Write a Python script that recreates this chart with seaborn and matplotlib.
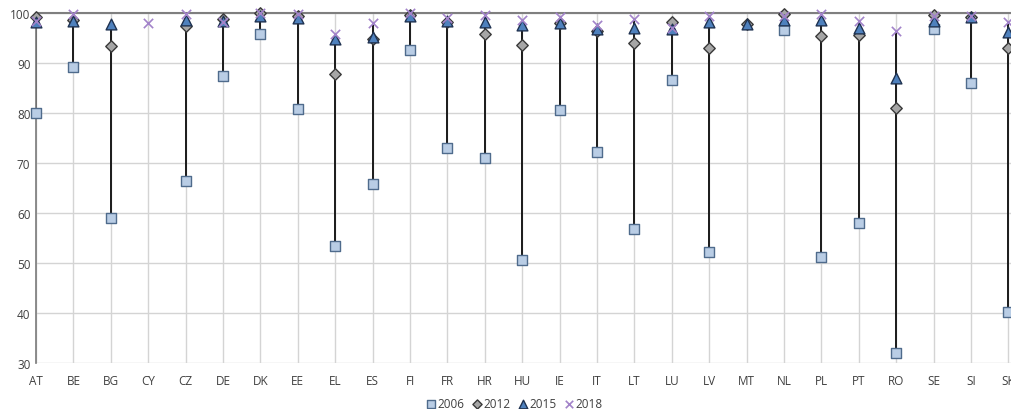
import pandas as pd
import numpy as np
import matplotlib.pyplot as plt
import seaborn as sns

countries = ['AT', 'BE', 'BG', 'CY', 'CZ', 'DE', 'DK', 'EE', 'EL', 'ES', 'FI', 'FR', 'HR', 'HU',
             'IE', 'IT', 'LT', 'LU', 'LV', 'MT', 'NL', 'PL', 'PT', 'RO', 'SE', 'SI', 'SK']

nan = np.nan
v2006 = [80.0, 89.2, 59.0, nan, 66.5, 87.5, 95.8, 80.8, 53.5, 65.9, 92.7, 73.0, 71.1, 50.7,
         80.6, 72.3, 56.8, 86.7, 52.3, nan, 96.6, 51.3, 58.1, 32.1, 96.9, 86.1, 40.2]
v2012 = [99.2, 98.6, 93.5, nan, 97.5, 98.8, 100.0, 99.5, 87.8, 94.9, 99.7, 98.2, 95.8, 93.7,
         98.0, 96.5, 94.0, 98.2, 93.0, 97.8, 99.8, 95.5, 95.6, 81.1, 99.6, 99.2, 93.0]
v2015 = [98.3, 98.4, 97.8, nan, 98.7, 98.4, 99.5, 99.0, 94.9, 95.3, 99.5, 98.5, 98.3, 97.6,
         98.1, 96.8, 97.1, 96.9, 98.3, 97.8, 98.7, 98.6, 97.1, 87.0, 98.5, 99.3, 96.3]
v2018 = [98.4, 99.8, nan, 98.1, 99.8, 98.2, 100.0, 99.8, 95.9, 98.0, 100.0, 99.0, 99.7, 98.7,
         99.3, 97.6, 98.8, 97.0, 99.5, nan, 99.5, 99.8, 98.5, 96.5, 99.5, 99.5, 98.3]

years = ['2006', '2012', '2015', '2018']

df = pd.DataFrame({'country': countries, '2006': v2006, '2012': v2012,
                   '2015': v2015, '2018': v2018})
long = df.melt(id_vars='country', var_name='year', value_name='value').dropna()

sns.set_theme(style='white')
plt.rcParams['font.family'] = ['Open Sans', 'DejaVu Sans']

fig = plt.figure(figsize=(10.11, 4.10), dpi=100)
ax = fig.add_axes([36 / 1011, 1 - 364 / 410, 975 / 1011, 350 / 410])

# high-low lines
pos = {c: i for i, c in enumerate(countries)}
rng = long.groupby('country')['value'].agg(['min', 'max'])
rng = rng[rng['max'] > rng['min']]
ax.vlines([pos[c] for c in rng.index], rng['min'], rng['max'], color='#1a1a1a', lw=1.4, zorder=2)

styles = {
    '2006': dict(marker='s', color='#b9cde5', edgecolor='#4f6b8c', s=55, linewidth=1.0),
    '2012': dict(marker='D', color='#a6a6a6', edgecolor='#3a3a3a', s=34, linewidth=1.0),
    '2015': dict(marker='^', color='#4f81bd', edgecolor='#1f3251', s=60, linewidth=1.0),
    '2018': dict(marker='x', color='#a283c9', s=45, linewidth=1.2),
}
for y in years:
    d = long[long['year'] == y].copy()
    d['x'] = d['country'].map(pos)
    sns.scatterplot(data=d, x='x', y='value', ax=ax, label=y, zorder=3, clip_on=False,
                    **styles[y])

ax.set_xlim(0, 975 / 37.4)
ax.set_ylim(30, 100)
ax.set_yticks(range(30, 101, 10))
ax.set_xticks(range(len(countries)))
ax.set_xticklabels(countries)
ax.grid(True, color='#d4d4d4', lw=1.0, zorder=0)
ax.set_axisbelow(True)
for s in ['right', 'bottom']:
    ax.spines[s].set_visible(False)
ax.spines['left'].set_color('#7f7f7f')
ax.spines['top'].set_color('#7f7f7f')
ax.spines['top'].set_linewidth(1.5)
ax.tick_params(axis='both', length=0, labelsize=8.5, labelcolor='#404040')
ax.tick_params(axis='x', pad=8)
ax.tick_params(axis='y', pad=4)
ax.set_xlabel('')
ax.set_ylabel('')

ax.legend(loc='center', bbox_to_anchor=(0.49, -41 / 350), ncol=4, frameon=False,
          fontsize=8.5, handletextpad=0.1, handlelength=1.0, columnspacing=0.5,
          markerscale=0.8, labelcolor='#404040', borderpad=0.1)

fig.savefig('out.png', dpi=100)
